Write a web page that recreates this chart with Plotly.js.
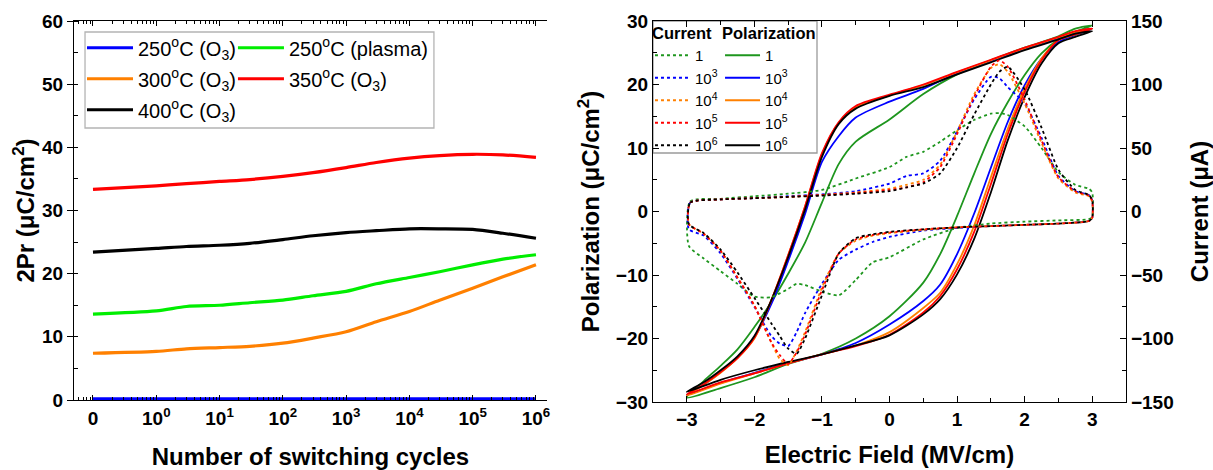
<!DOCTYPE html>
<html><head><meta charset="utf-8">
<script src="https://cdn.plot.ly/plotly-3.0.1.min.js"></script>
<style>html,body{margin:0;padding:0;background:#fff}#chart{width:1213px;height:470px}</style>
</head><body><div id="chart"></div>
<script>
// ---------- Left panel: 2Pr vs number of switching cycles ----------
const cycles = [0, 1, 3, 10, 30, 100, 300, 1000, 3000, 10000, 30000, 100000, 300000, 1000000];
const pr250O3     = [0.2, 0.2, 0.2, 0.2, 0.2, 0.2, 0.2, 0.2, 0.2, 0.2, 0.2, 0.2, 0.2, 0.2];
const pr250Plasma = [13.6, 14.1, 14.8, 15.0, 15.4, 15.8, 16.5, 17.2, 18.4, 19.4, 20.3, 21.4, 22.3, 23.0];
const pr300O3     = [7.4, 7.7, 8.1, 8.3, 8.5, 9.0, 9.8, 10.8, 12.4, 14.0, 15.8, 17.7, 19.5, 21.4];
const pr350O3     = [33.35, 33.9, 34.25, 34.6, 34.9, 35.4, 36.0, 36.8, 37.6, 38.3, 38.7, 38.9, 38.8, 38.4];
const pr400O3     = [23.4, 24.0, 24.3, 24.5, 24.8, 25.4, 26.0, 26.5, 26.8, 27.1, 27.1, 27.0, 26.4, 25.6];
const leftNames = ['250<sup>o</sup>C (O<sub>3</sub>)', '250<sup>o</sup>C (plasma)', '300<sup>o</sup>C (O<sub>3</sub>)',
                   '350<sup>o</sup>C (O<sub>3</sub>)', '400<sup>o</sup>C (O<sub>3</sub>)'];
const cycleTickVals = [0.1, 1, 10, 100, 1000, 10000, 100000, 1000000];
const cycleTickText = ['0', '10<sup>0</sup>', '10<sup>1</sup>', '10<sup>2</sup>', '10<sup>3</sup>', '10<sup>4</sup>', '10<sup>5</sup>', '10<sup>6</sup>'];

// ---------- Right panel: P-E loops and switching current ----------
const cycleLabels = ['1', '10<sup>3</sup>', '10<sup>4</sup>', '10<sup>5</sup>', '10<sup>6</sup>'];
// polarization, rising field branch
const E_rise = [-3, -2.5, -2, -1.5, -1, -0.5, 0, 0.5, 0.75, 1, 1.25, 1.5, 1.75, 2, 2.25, 2.5, 2.75, 3];
const P1_rise = [-29.3, -27.8, -26.1, -24.0, -22.4, -20.0, -16.5, -11.2, -6.7, -0.7, 5.9, 12.2, 17.2, 21.5, 24.9, 27.1, 28.3, 29.3];
const P3_rise = [-28.9, -27.0, -25.4, -23.9, -22.5, -20.7, -17.8, -14.1, -11.5, -6.7, -0.4, 6.9, 14.1, 19.9, 24.1, 26.7, 27.8, 28.8];
const P4_rise = [-29.0, -27.1, -25.5, -23.9, -22.5, -21.1, -19.0, -15.2, -12.8, -8.3, -2.3, 5.4, 13.0, 19.3, 24.1, 27.0, 27.9, 28.8];
const P5_rise = [-28.8, -26.9, -25.5, -23.9, -22.5, -21.2, -19.4, -15.9, -13.3, -9.1, -3.3, 4.3, 12.2, 18.8, 23.8, 27.0, 27.9, 28.8];
const P6_rise = [-28.4, -26.5, -25.0, -23.7, -22.5, -21.1, -19.5, -16.2, -13.8, -9.9, -4.4, 3.0, 11.2, 18.0, 23.3, 26.5, 27.5, 28.4];
// polarization, falling field branch
const E_fall = [2.75, 2.5, 2, 1.5, 1, 0.5, 0, -0.5, -0.75, -1, -1.25, -1.5, -1.75, -2, -2.25, -2.5, -2.75, -3];
const P1_fall = [28.8, 27.6, 25.8, 23.8, 21.6, 18.5, 14.5, 11.0, 7.5, 1.4, -4.9, -9.8, -14.3, -18.2, -21.7, -24.3, -26.7, -29.3];
const P3_fall = [28.3, 27.3, 25.6, 23.7, 21.8, 19.3, 17.3, 14.8, 11.9, 7.8, -0.4, -7.8, -14.6, -19.8, -23.0, -25.3, -27.3, -28.9];
const P4_fall = [28.3, 27.4, 25.7, 23.8, 21.9, 19.9, 18.3, 16.4, 14.0, 9.0, 0.8, -6.9, -14.0, -20.0, -23.1, -25.4, -27.3, -29.0];
const P5_fall = [28.4, 27.5, 25.8, 23.9, 22.0, 20.0, 18.4, 16.6, 14.1, 9.2, 0.8, -6.9, -14.0, -19.9, -23.1, -25.3, -27.2, -28.8];
const P6_fall = [28.0, 27.1, 25.4, 23.5, 21.6, 19.6, 18.2, 16.2, 13.8, 8.6, 0.3, -7.2, -14.0, -19.6, -22.8, -25.0, -26.9, -28.4];
// switching current, rising field branch
const IE_rise = [-2.97, -2.95, -2.5, -2, -1.5, -1, -0.5, 0, 0.25, 0.5, 0.75, 1, 1.25, 1.5, 1.625, 1.75, 2, 2.25, 2.5, 2.75, 2.95, 3.0];
const I1_rise = [-27, 8, 10, 12, 14, 17, 26, 35, 43, 47, 55, 64, 72, 77, 77.5, 76, 67, 50, 31, 21, 18, 15];
const I3_rise = [-14, 7, 9.5, 10.5, 12, 13.5, 16, 22, 28, 30, 40, 63, 88, 106, 105, 98, 85, 58, 28, 16, 13, 9];
const I4_rise = [-10, 7, 9.5, 10.5, 11.5, 13, 15, 18, 21, 25, 37, 63, 92, 113, 116, 110, 85, 54, 26, 15, 12, 8];
const I5_rise = [-10, 7, 9.5, 10.5, 11.5, 13, 14.5, 17, 19, 23, 35, 61, 90, 114, 119, 114, 88, 56, 27, 16, 12.5, 8];
const I6_rise = [-10, 7, 9.5, 10.5, 11.5, 12.5, 14, 16, 19, 22, 30, 50, 76, 100, 110, 114, 96, 66, 33, 17, 13, 9];
// switching current, falling field branch
const IE_fall = [3.0, 2.95, 2.5, 2, 1.5, 1, 0.5, 0, -0.25, -0.5, -0.75, -1, -1.25, -1.375, -1.5, -1.625, -1.75, -2, -2.25, -2.5, -2.75, -2.97];
const I1_fall = [-4, -6, -7, -8, -9.5, -13, -22, -36, -40, -54, -66, -63, -58, -57, -61, -64.5, -67.5, -67, -57, -47, -37, -27];
const I3_fall = [-5, -7.5, -9.5, -10.5, -11.5, -13, -15, -20, -24, -30, -38, -57, -80, -95, -106, -104, -98, -75, -53, -33, -19, -14];
const I4_fall = [-5, -7.5, -9.5, -10.5, -11.5, -12.5, -14.5, -17, -19, -23, -33, -60, -95, -110, -121, -116, -103, -74, -52, -31, -17.5, -10];
const I5_fall = [-5, -7.5, -9.5, -10.5, -11.5, -12.5, -14, -16.5, -18.5, -22, -33, -62, -97, -111, -120, -113, -103, -74, -52, -31, -17.5, -10];
const I6_fall = [-5, -7.5, -9.5, -10.5, -11.5, -12.5, -14, -16, -18, -21, -33, -66, -100, -112, -108, -98, -88, -68, -48, -30, -17, -10];

// ---------- styling ----------
const FAM = 'Liberation Sans, Arial, Helvetica, sans-serif';
const tickFont = {family: FAM, size: 19, weight: 'bold', color: '#000'};
const titleFont = {family: FAM, size: 24, weight: 'bold', color: '#000'};
const leftColors = ['#0000ff', '#00ee00', '#ff8000', '#ff0000', '#000000'];
const rightColors = ['#1e961e', '#0000ff', '#ff8000', '#ff0000', '#000000'];

// "0 cycles" is shown at the first decade slot of the log axis
const cycleX = cycles.map(c => (c === 0 ? 0.1 : c));
const minorCycleTicks = [];
for (let n = -2; n <= 5; n++) for (let k = 2; k <= 9; k++) minorCycleTicks.push(k * Math.pow(10, n));

const traces = [];
const leftSeries = [pr250O3, pr250Plasma, pr300O3, pr350O3, pr400O3];
const leftLegendOf = ['legend', 'legend2', 'legend', 'legend2', 'legend'];
leftSeries.forEach((ys, i) => {
  traces.push({
    x: cycleX, y: ys, type: 'scatter', mode: 'lines', name: leftNames[i],
    line: {color: leftColors[i], width: 3.2, shape: 'spline', smoothing: 0.8},
    xaxis: 'x', yaxis: 'y', legend: leftLegendOf[i], legendgroup: 'L' + i
  });
});

const Irise = [I1_rise, I3_rise, I4_rise, I5_rise, I6_rise];
const Ifall = [I1_fall, I3_fall, I4_fall, I5_fall, I6_fall];
const Prise = [P1_rise, P3_rise, P4_rise, P5_rise, P6_rise];
const Pfall = [P1_fall, P3_fall, P4_fall, P5_fall, P6_fall];
for (let i = 0; i < 5; i++) {
  traces.push({
    x: IE_rise.concat(IE_fall), y: Irise[i].concat(Ifall[i]), type: 'scatter', mode: 'lines',
    name: cycleLabels[i], line: {color: rightColors[i], width: 1.8, dash: 'dot', shape: 'spline', smoothing: 0.6},
    xaxis: 'x2', yaxis: 'y3', legend: 'legend3'
  });
}
for (let i = 0; i < 5; i++) {
  traces.push({
    x: E_rise.concat(E_fall), y: Prise[i].concat(Pfall[i]), type: 'scatter', mode: 'lines',
    name: cycleLabels[i], line: {color: rightColors[i], width: 1.8, shape: 'spline', smoothing: 0.8},
    xaxis: 'x2', yaxis: 'y2', legend: 'legend4'
  });
}

const axBase = {showline: true, linecolor: '#000', linewidth: 1.3, showgrid: false, zeroline: false,
  tickcolor: '#000', tickwidth: 1.3, tickfont: tickFont};

const layout = {
  width: 1213, height: 470,
  margin: {l: 74, r: 87, t: 21, b: 68},
  paper_bgcolor: '#fff', plot_bgcolor: 'rgba(0,0,0,0)',
  font: {family: FAM, color: '#000'},
  xaxis: Object.assign({}, axBase, {
    domain: [0, 0.4496], anchor: 'y', type: 'log', range: [-1.30, 6.174],
    tickmode: 'array', tickvals: cycleTickVals, ticktext: cycleTickText,
    ticks: 'inside', ticklen: 5, mirror: 'ticks', ticklabelstandoff: 1,
    minor: {tickvals: minorCycleTicks, ticks: 'inside', ticklen: 3, tickwidth: 1, tickcolor: '#000', showgrid: false},
    title: {text: 'Number of switching cycles', font: titleFont, standoff: 21}
  }),
  yaxis: Object.assign({}, axBase, {
    domain: [0.00525, 1], anchor: 'x', range: [0, 60], dtick: 10,
    ticks: 'outside', ticklen: 6,
    minor: {dtick: 5, ticks: 'inside', ticklen: 4, tickwidth: 1, tickcolor: '#000', showgrid: false},
    title: {text: '2Pr (μC/cm<sup>2</sup>)', font: titleFont, standoff: 0}
  }),
  yaxis4: Object.assign({}, axBase, {
    overlaying: 'y', side: 'right', anchor: 'x', range: [0, 60], dtick: 5,
    ticks: 'inside', ticklen: 5, showticklabels: false
  }),
  xaxis2: Object.assign({}, axBase, {
    domain: [0.5504, 1], anchor: 'y2', range: [-3.5, 3.5], dtick: 1,
    ticks: 'inside', ticklen: 6, mirror: 'ticks',
    minor: {dtick: 0.5, ticks: 'inside', ticklen: 4, tickwidth: 1, tickcolor: '#000', showgrid: false},
    title: {text: 'Electric Field (MV/cm)', font: titleFont, standoff: 17}
  }),
  yaxis2: Object.assign({}, axBase, {
    domain: [0, 1], anchor: 'x2', range: [-30, 30], dtick: 10,
    ticks: 'inside', ticklen: 6,
    minor: {dtick: 5, ticks: 'inside', ticklen: 4, tickwidth: 1, tickcolor: '#000', showgrid: false},
    title: {text: 'Polarization (μC/cm<sup>2</sup>)', font: titleFont, standoff: 9}
  }),
  yaxis3: Object.assign({}, axBase, {
    overlaying: 'y2', side: 'right', anchor: 'x2', range: [-150, 150], dtick: 50,
    ticks: 'inside', ticklen: 6,
    minor: {dtick: 25, ticks: 'inside', ticklen: 4, tickwidth: 1, tickcolor: '#000', showgrid: false},
    title: {text: 'Current (μA)', font: titleFont, standoff: 18}
  }),
  legend: {x: 0.0076, y: 0.981, xanchor: 'left', yanchor: 'top', bgcolor: 'rgba(0,0,0,0)',
    font: {family: FAM, size: 20, color: '#000'}, itemwidth: 46, tracegroupgap: 2, traceorder: 'grouped'},
  legend2: {x: 0.1511, y: 0.981, xanchor: 'left', yanchor: 'top', bgcolor: 'rgba(0,0,0,0)',
    font: {family: FAM, size: 20, color: '#000'}, itemwidth: 46, tracegroupgap: 2, traceorder: 'grouped'},
  legend3: {x: 0.5475, y: 1.009, xanchor: 'left', yanchor: 'top', bgcolor: 'rgba(0,0,0,0)',
    font: {family: FAM, size: 15, color: '#000'}, itemwidth: 35, traceorder: 'normal',
    title: {text: 'Current', font: {family: FAM, size: 16.5, weight: 'bold', color: '#000'}}},
  legend4: {x: 0.6141, y: 1.009, xanchor: 'left', yanchor: 'top', bgcolor: 'rgba(0,0,0,0)',
    font: {family: FAM, size: 15, color: '#000'}, itemwidth: 35, traceorder: 'normal',
    title: {text: 'Polarization', font: {family: FAM, size: 16.5, weight: 'bold', color: '#000'}}},
  shapes: [
    {type: 'rect', xref: 'x domain', yref: 'y domain', x0: 0.0233, x1: 0.761, y0: 0.7177, y1: 0.971,
     line: {color: '#b4b4b4', width: 1.3}, layer: 'below'},
    {type: 'rect', xref: 'x2 domain', yref: 'y2 domain', x0: 0, x1: 0.3467, y0: 0.6535, y1: 1,
     line: {color: '#9a9a9a', width: 1.3}, layer: 'below'}
  ]
};

Plotly.newPlot('chart', traces, layout, {displayModeBar: false, responsive: false});
</script>
</body></html>
